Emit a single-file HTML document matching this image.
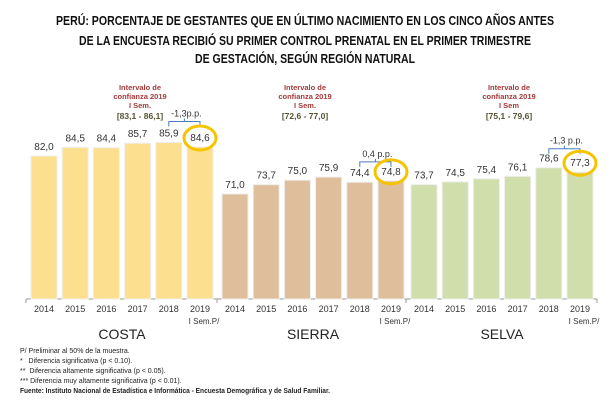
<!DOCTYPE html>
<html><head><meta charset="utf-8"><style>
body{margin:0;background:#fff}
svg{display:block;font-family:"Liberation Sans",sans-serif}
</style></head><body>
<svg width="612" height="401" viewBox="0 0 612 401">
<g font-weight="bold" font-size="13" fill="#111" text-anchor="middle">
<text x="305" y="25" textLength="498" lengthAdjust="spacingAndGlyphs">PERÚ: PORCENTAJE DE GESTANTES QUE EN ÚLTIMO NACIMIENTO EN LOS CINCO AÑOS ANTES</text>
<text x="305" y="45" textLength="452" lengthAdjust="spacingAndGlyphs">DE LA ENCUESTA RECIBIÓ SU PRIMER CONTROL PRENATAL EN EL PRIMER TRIMESTRE</text>
<text x="305" y="63" textLength="220" lengthAdjust="spacingAndGlyphs">DE GESTACIÓN, SEGÚN REGIÓN NATURAL</text>
</g>
<g id="plot"></g>
<g font-size="7" fill="#222">
<text x="20" y="353">P/ Preliminar al 50% de la muestra.</text>
<text x="20" y="363">*&#160;&#160;&#160;Diferencia significativa (p &lt; 0.10).</text>
<text x="20" y="373">**&#160;&#160;Diferencia  altamente significativa (p &lt; 0.05).</text>
<text x="20" y="383">*** Diferencia muy altamente significativa (p &lt; 0.01).</text>
<text x="20" y="393" font-weight="bold" textLength="310" lengthAdjust="spacingAndGlyphs">Fuente: Instituto Nacional de Estadística e Informática - Encuesta Demográfica y de Salud Familiar.</text>
</g>
</svg>
<script>
const years=["2014","2015","2016","2017","2018","2019"];
const regions=["COSTA","SIERRA","SELVA"];
const costa=[82.0,84.5,84.4,85.7,85.9,84.6];
const sierra=[71.0,73.7,75.0,75.9,74.4,74.8];
const selva=[73.7,74.5,75.4,76.1,78.6,77.3];
const intervals=["[83,1 - 86,1]","[72,6 - 77,0]","[75,1 - 79,6]"];
const semLabels=["I Sem.","I Sem.","I Sem"];
const diffs=["-1,3p.p.","0,4 p.p.","-1,3 p.p."];
const series=[costa,sierra,selva];
const colors=["#fce08f","#dfbe9c","#cfdeaa"];
const NS="http://www.w3.org/2000/svg";
const g=document.getElementById('plot');
const base=299,k=3.4545,vmin=40.6;
const y=v=>base-k*(v-vmin);
const groupX=[31,222,411],pitch=31.2,bw=26;
const x=(gi,i)=>groupX[gi]+i*pitch;
function mk(t,a,p){const e=document.createElementNS(NS,t);for(const n in a)e.setAttribute(n,a[n]);(p||g).appendChild(e);return e;}
function tx(s,a){const e=mk('text',a);e.textContent=s;return e;}
// axis
const ax=mk('line',{x1:26,y1:base,x2:597,y2:base,stroke:'#999'});


[26,217,406,597].forEach(xx=>{const t=mk('line',{x1:xx,y1:base,x2:xx,y2:base+4,stroke:'#999'});

});
series.forEach((s,gi)=>{
 s.forEach((v,i)=>{
  const r=mk('rect',{x:x(gi,i),y:y(v),width:bw,height:base-y(v),fill:colors[gi],stroke:'#eee','stroke-width':1});
  
  
  const l=tx(v.toFixed(1).replace('.',','),{x:x(gi,i)+bw/2,y:y(v)-6,'text-anchor':'middle','font-size':10,fill:'#333'});
  
  
  const yl=tx(years[i],{x:x(gi,i)+bw/2,y:312,'text-anchor':'middle','font-size':9,fill:'#333'});
  
  
 });
 const sl=tx('I Sem.P/',{x:x(gi,5)+bw/2+4,y:324,'text-anchor':'middle','font-size':8,fill:'#333'});
 
 
 const rl=tx(regions[gi],{x:x(gi,0)+2.5*pitch+bw/2,y:339,'text-anchor':'middle','font-size':14,fill:'#222'});
 
 
 // interval annotation
 const cx=[140,305,509][gi];
 const an=mk('g',{'text-anchor':'middle','font-size':7.5,'font-weight':'bold'});
 
 
 [['Intervalo de',90],['confianza 2019',99],[semLabels[gi],108]].forEach(([s,yy])=>{const t=mk('text',{x:cx,y:yy,fill:'#a33a3a'},an);t.textContent=s;});
 const it=mk('text',{x:cx,y:119,fill:'#555533','font-size':8.5},an);it.textContent=intervals[gi];
 // bracket
 const by=y(Math.max(s[4],s[5]))-(gi==0?21:19);
 const x1=x(gi,4)+bw/2,x2=x(gi,5)+bw/2;
 const br=mk('path',{d:`M${x1} ${by+5}V${by}H${x2}V${by+5}M${(x1+x2)/2} ${by}v-3`,fill:'none',stroke:'#4a7cc0','stroke-width':1});
 
 
 const dt=tx(diffs[gi],{x:(x1+x2)/2+2,y:by-5,'text-anchor':'middle','font-size':9,fill:'#333'});
 
 
 const c=mk('ellipse',{cx:x(gi,5)+bw/2,cy:y(s[5])-9,rx:16,ry:12,fill:'none',stroke:'#f5c400','stroke-width':3});
 
 
});
</script>
</body></html>
